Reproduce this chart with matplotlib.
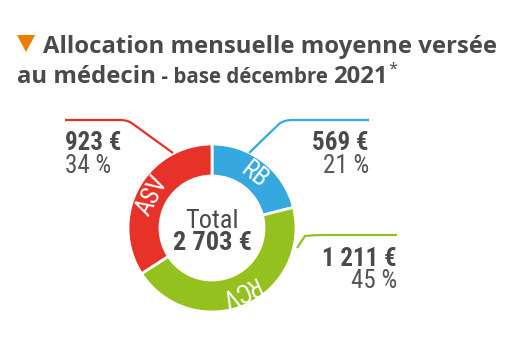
import matplotlib
matplotlib.use("Agg")
import matplotlib.pyplot as plt
from matplotlib import font_manager as fm
from matplotlib.path import Path
from matplotlib.patches import PathPatch, Polygon
import numpy as np

# ---- data ----
labels = ["RB", "RCV", "ASV"]
values = [569, 1211, 923]
percents = [21, 45, 34]
value_texts = ["569 €", "1 211 €", "923 €"]
pct_texts = ["21 %", "45 %", "34 %"]
total_text = "2 703 €"
colors = ["#35A8E0", "#95C11F", "#E63229"]

names = {f.name for f in fm.fontManager.ttflist}
def pick(*cands):
    for c in cands:
        if c in names:
            return c
    return "DejaVu Sans"
narrow = pick("Liberation Sans Narrow", "Roboto Condensed", "Liberation Sans")
title_font = pick("Open Sans", "Noto Sans", "Lato")

W, H = 508, 346
fig = plt.figure(figsize=(W / 100, H / 100), dpi=100)
ax = fig.add_axes([0, 0, 1, 1])

def Y(y):
    return H - y

cx, cy, R, w = 212, Y(228), 84, 32
wedges, _ = ax.pie(values, colors=colors, startangle=90, counterclock=False,
                   center=(cx, cy), radius=R,
                   wedgeprops=dict(width=w, edgecolor="white", linewidth=2))
ax.set_xlim(0, W)
ax.set_ylim(0, H)
ax.set_aspect("equal")
ax.axis("off")

# labels in ring
rm = R - w / 2
for wd, lab in zip(wedges, labels):
    mid = (wd.theta1 + wd.theta2) / 2
    a = np.deg2rad(mid)
    ax.text(cx + rm * np.cos(a), cy + rm * np.sin(a), lab, rotation=mid - 90,
            rotation_mode="anchor", ha="center", va="center", color="white",
            fontsize=18, family=narrow)

dark = "#4a4a4a"
ax.text(cx, Y(228), "Total", ha="center", va="baseline", fontsize=19,
        color=dark, family=narrow)
ax.text(cx, Y(250), total_text, ha="center", va="baseline", fontsize=19,
        color=dark, family=narrow, fontweight="bold")

# leader lines
def leader(pts, color):
    verts = [(x, Y(y)) for x, y in pts]
    codes = [Path.MOVETO, Path.LINETO, Path.CURVE3, Path.CURVE3, Path.LINETO]
    ax.add_patch(PathPatch(Path(verts, codes), fc="none", ec=color, lw=1.6,
                           capstyle="butt"))

leader([(173, 153), (133, 124), (128, 120), (120, 120), (65, 120)], colors[2])
leader([(249, 153), (279, 124), (284, 120), (292, 120), (369, 120)], colors[0])
leader([(297, 248), (305, 236), (314, 235), (322, 235), (397, 235)], colors[1])

# value labels
fs = 18
grey = "#555555"
ax.text(65, Y(150), value_texts[2], ha="left", va="baseline", fontsize=fs,
        color=dark, family=narrow, fontweight="bold")
ax.text(65, Y(173), pct_texts[2], ha="left", va="baseline", fontsize=fs,
        color=grey, family=narrow)
ax.text(369, Y(150), value_texts[0], ha="right", va="baseline", fontsize=fs,
        color=dark, family=narrow, fontweight="bold")
ax.text(369, Y(173), pct_texts[0], ha="right", va="baseline", fontsize=fs,
        color=grey, family=narrow)
ax.text(397, Y(266), value_texts[1], ha="right", va="baseline", fontsize=fs,
        color=dark, family=narrow, fontweight="bold")
ax.text(397, Y(288), pct_texts[1], ha="right", va="baseline", fontsize=fs,
        color=grey, family=narrow)

# title
ax.add_patch(Polygon([(17, Y(35)), (35, Y(35)), (26, Y(52))], closed=True,
                     fc="#F07D00", ec="none"))
t0 = ax.text(43, Y(53), "Allocation mensuelle moyenne versée", ha="left",
             va="baseline", fontsize=19, color=dark, family=title_font,
             fontweight="bold")
fig.canvas.draw()
r = fig.canvas.get_renderer()
bb = t0.get_window_extent(r)
tfs = 19 * 450 / bb.width
t0.set_fontsize(tfs)
sfs = tfs * 0.86

def right_of(t):
    return t.get_window_extent(r).x1
t1 = ax.text(17, Y(83), "au médecin", ha="left", va="baseline", fontsize=tfs,
             color=dark, family=title_font, fontweight="bold")
fig.canvas.draw()
t2 = ax.text(right_of(t1), Y(83), " - base décembre ", ha="left", va="baseline",
             fontsize=sfs, color=dark, family=title_font, fontweight="bold")
fig.canvas.draw()
t3 = ax.text(right_of(t2), Y(83), "2021", ha="left", va="baseline", fontsize=tfs,
             color=dark, family=title_font, fontweight="bold")
fig.canvas.draw()
ax.text(right_of(t3) + 1, Y(74), "*", ha="left", va="baseline", fontsize=12,
        color=dark, family=title_font)

fig.savefig("out.png", dpi=100)
